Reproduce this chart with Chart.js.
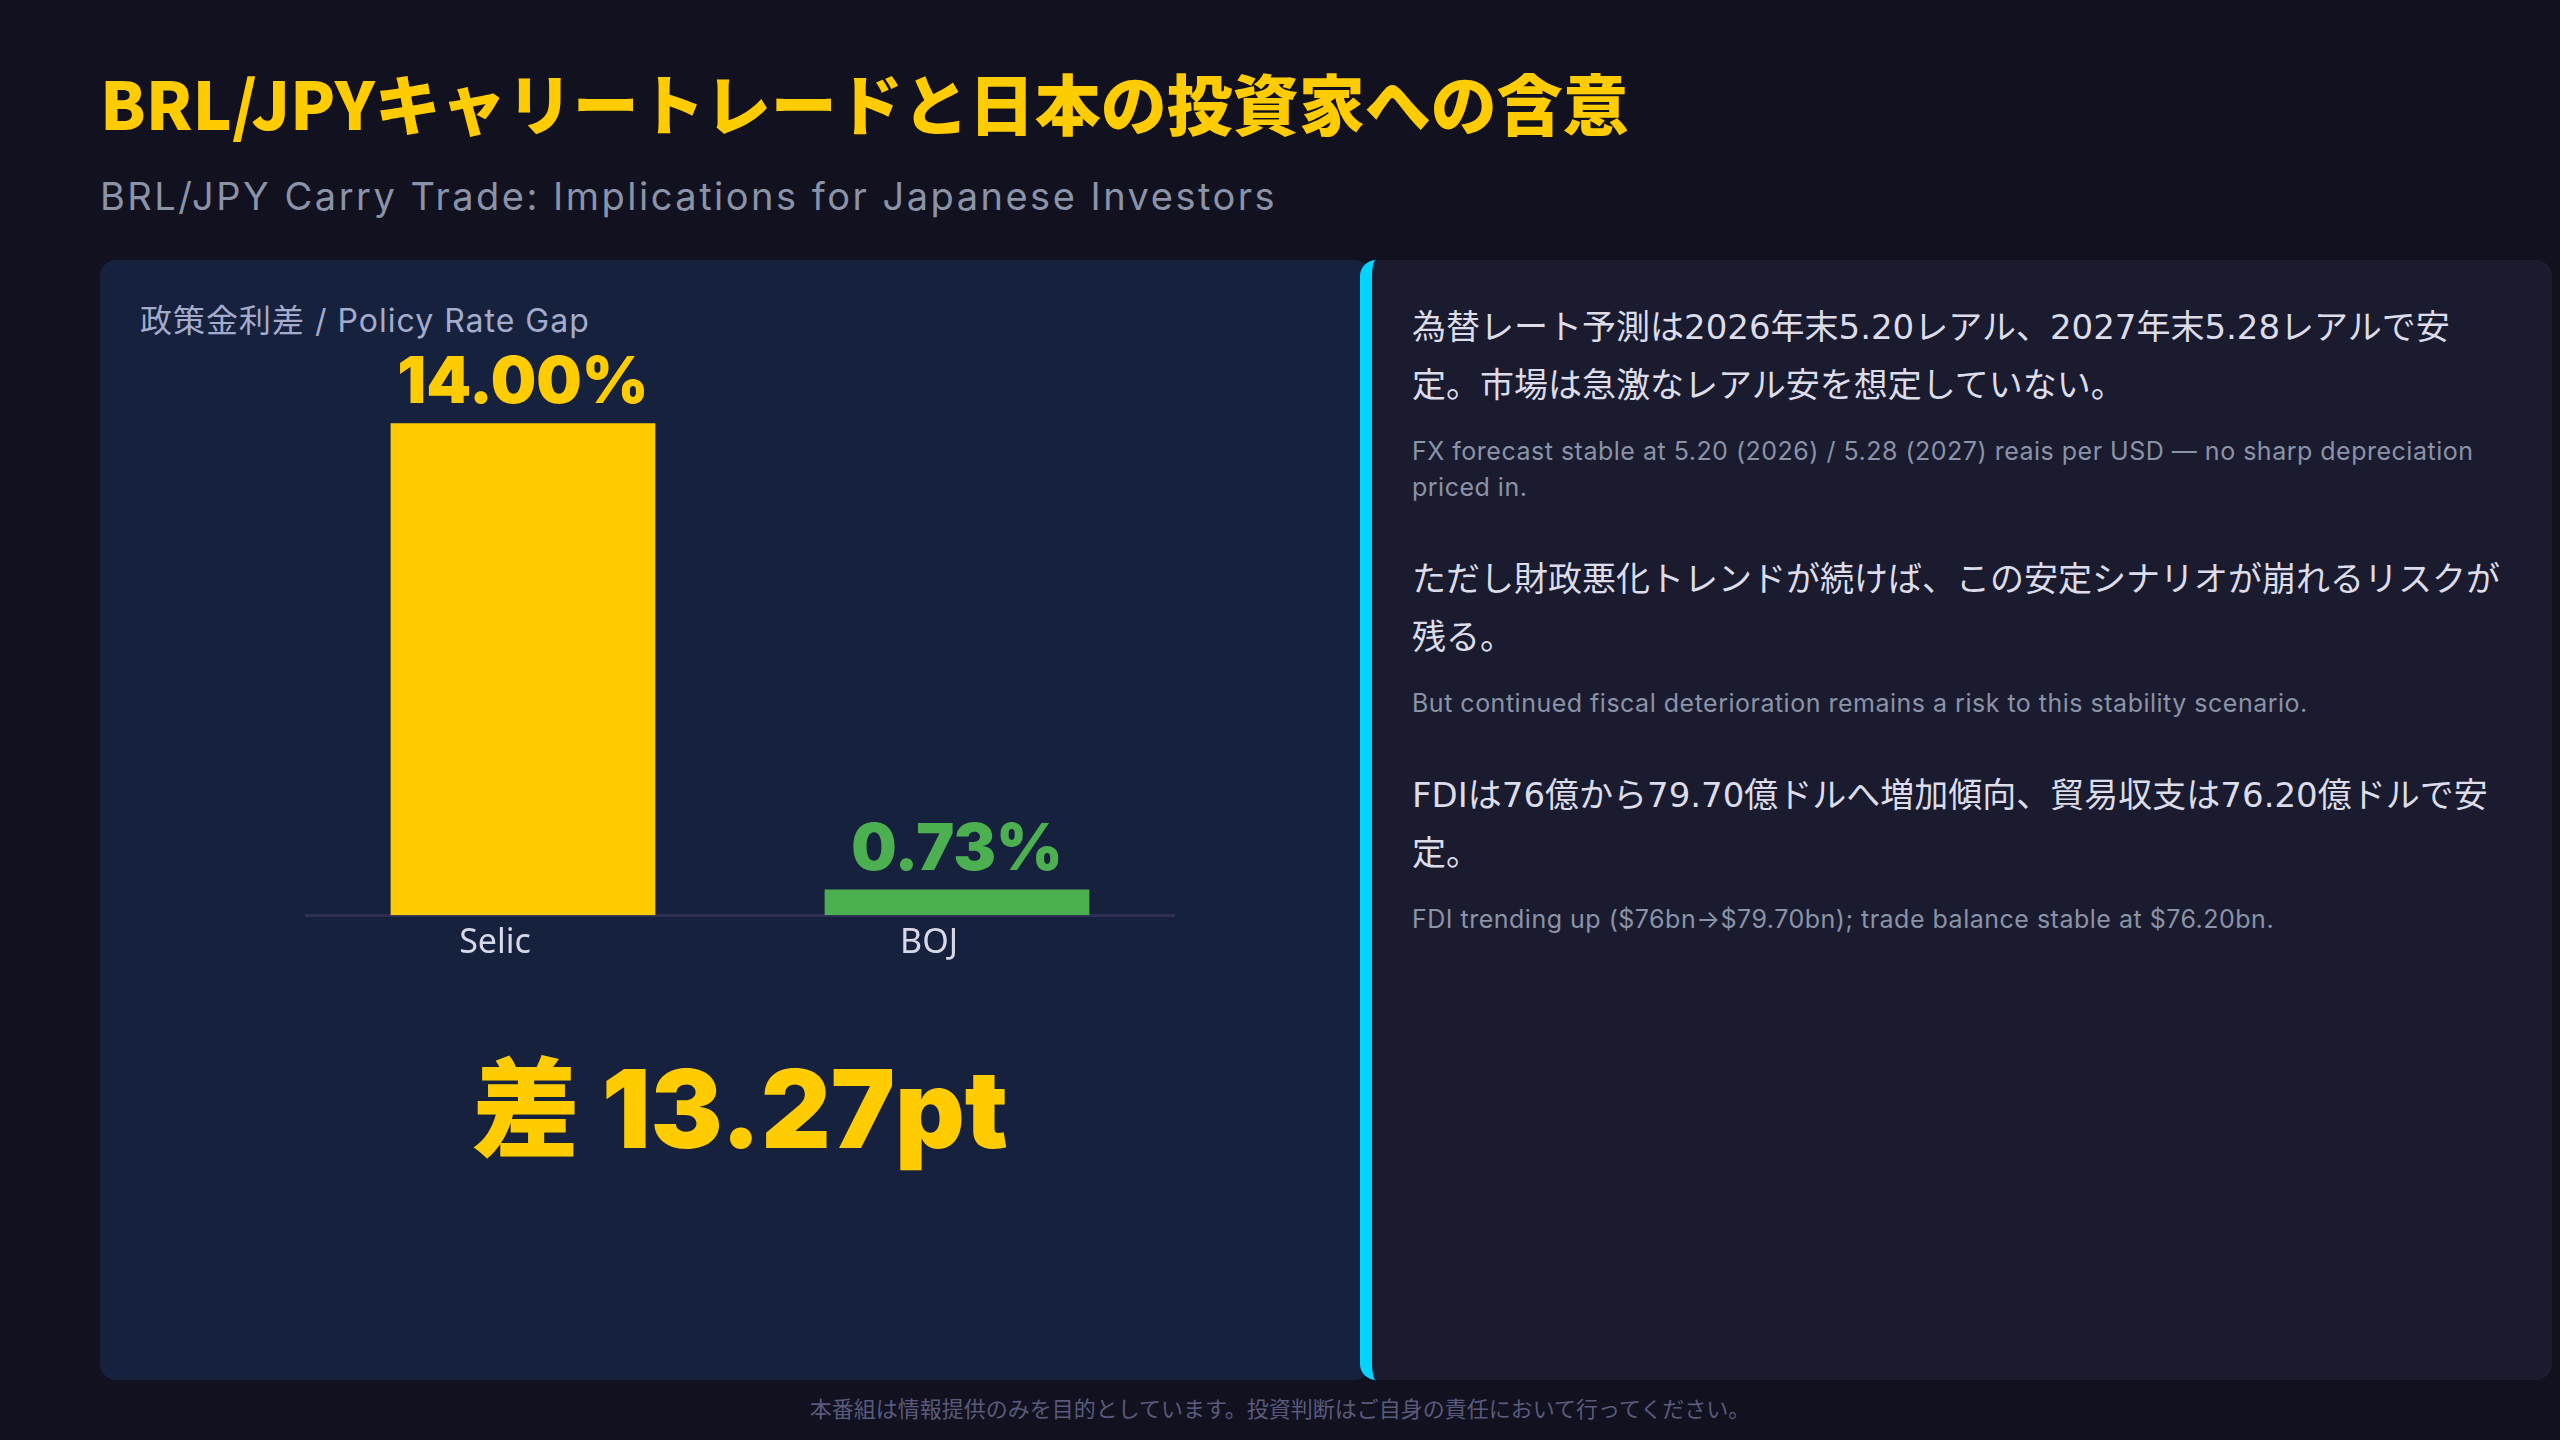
<!DOCTYPE html>
<html lang="ja">
<head>
  <meta charset="UTF-8" />
  <title>BRL/JPY Carry Trade</title>
  <script src="https://cdn.jsdelivr.net/npm/chart.js"></script>
  <style>
    html, body {
      margin: 0;
      padding: 0;
      width: 2560px;
      height: 1440px;
      background: #11111f;
      overflow: hidden;
      font-family: "Noto Sans CJK JP", "Noto Sans", sans-serif;
    }
    .title {
      position: absolute;
      left: 100px;
      top: 68px;
      font-size: 66px;
      line-height: 1;
      font-weight: 900;
      color: #ffcc00;
      white-space: nowrap;
    }
    .subtitle {
      position: absolute;
      left: 100px;
      top: 177px;
      font-family: Inter, "Noto Sans", sans-serif;
      font-size: 38px;
      letter-spacing: 2.5px;
      line-height: 1;
      color: #8a93a8;
      white-space: nowrap;
    }
    .left-panel {
      position: absolute;
      left: 100px;
      top: 260px;
      width: 1270px;
      height: 1120px;
      background: #16213e;
      border-radius: 16px;
    }
    .panel-label {
      position: absolute;
      left: 140px;
      top: 305px;
      font-family: Inter, "Noto Sans CJK JP", sans-serif;
      font-size: 32px;
      letter-spacing: 1px;
      line-height: 1;
      color: #a4abcb;
      white-space: nowrap;
    }
    .chart-box {
      position: absolute;
      left: 300px;
      top: 330px;
      width: 880px;
      height: 642px;
    }
    .gap {
      position: absolute;
      left: 340px;
      width: 800px;
      top: 1044px;
      text-align: center;
      font-family: Inter, "Noto Sans CJK JP", sans-serif;
      font-weight: 900;
      font-size: 108px;
      line-height: 1.2;
      color: #ffcc00;
    }
    .right-panel {
      position: absolute;
      left: 1360px;
      top: 260px;
      width: 1140px;
      height: 1082px;
      padding: 38px 0 0 40px;
      background: #1a1b2e;
      border-left: 12px solid #00d4ff;
      border-radius: 16px;
      box-sizing: content-box;
    }
    .right-panel .inner {
      width: 1095px;
    }
    .jp {
      margin: 0 0 19px 0;
      font-family: "DejaVu Sans", "Noto Sans CJK JP", sans-serif;
      font-size: 34px;
      line-height: 58px;
      color: #dcdcea;
    }
    .en {
      margin: 0 0 45px 0;
      font-family: Inter, "Noto Sans", sans-serif;
      font-size: 25px;
      letter-spacing: 0.5px;
      line-height: 36px;
      color: #8a93a8;
    }
    .footer {
      position: absolute;
      left: 0;
      width: 2560px;
      top: 1394px;
      text-align: center;
      font-size: 22px;
      line-height: 1.2;
      color: #5a5a7c;
    }
  </style>
</head>
<body>
  <div class="title">BRL/JPYキャリートレードと日本の投資家への含意</div>
  <div class="subtitle">BRL/JPY Carry Trade: Implications for Japanese Investors</div>

  <div class="left-panel"></div>
  <div class="panel-label">政策金利差 / Policy Rate Gap</div>
  <div class="chart-box"><canvas id="rateChart"></canvas></div>
  <div class="gap" id="gapText"></div>

  <div class="right-panel">
    <div class="inner">
      <p class="jp">為替レート予測は2026年末5.20レアル、2027年末5.28レアルで安定。市場は急激なレアル安を想定していない。</p>
      <p class="en">FX forecast stable at 5.20 (2026) / 5.28 (2027) reais per USD — no sharp depreciation priced in.</p>
      <p class="jp">ただし財政悪化トレンドが続けば、この安定シナリオが崩れるリスクが残る。</p>
      <p class="en">But continued fiscal deterioration remains a risk to this stability scenario.</p>
      <p class="jp">FDIは76億から79.70億ドルへ増加傾向、貿易収支は76.20億ドルで安定。</p>
      <p class="en">FDI trending up ($76bn→$79.70bn); trade balance stable at $76.20bn.</p>
    </div>
  </div>

  <div class="footer">本番組は情報提供のみを目的としています。投資判断はご自身の責任において行ってください。</div>

  <script>
    const categories = ['Selic', 'BOJ'];
    const policyRates = [14.00, 0.73];
    const barColors = ['#ffcc00', '#4caf50'];

    document.getElementById('gapText').textContent =
      '差 ' + (policyRates[0] - policyRates[1]).toFixed(2) + 'pt';

    // value labels above each bar, same colour as the bar
    const valueLabels = {
      id: 'valueLabels',
      afterDatasetsDraw(chart) {
        const ctx = chart.ctx;
        const meta = chart.getDatasetMeta(0);
        ctx.save();
        ctx.font = '900 64px Inter, sans-serif';
        ctx.textAlign = 'center';
        ctx.textBaseline = 'alphabetic';
        meta.data.forEach((bar, i) => {
          ctx.fillStyle = barColors[i];
          ctx.fillText(policyRates[i].toFixed(2) + '%', bar.x, bar.y - 20);
        });
        ctx.restore();
      }
    };

    new Chart(document.getElementById('rateChart'), {
      type: 'bar',
      data: {
        labels: categories,
        datasets: [{
          data: policyRates,
          backgroundColor: barColors,
          borderWidth: 0,
          barPercentage: 0.61,
          categoryPercentage: 1
        }]
      },
      options: {
        responsive: true,
        maintainAspectRatio: false,
        animation: false,
        layout: { padding: { left: 6, right: 6, top: 23, bottom: 0 } },
        plugins: { legend: { display: false }, tooltip: { enabled: false } },
        scales: {
          y: { display: false, min: 0, max: 16 },
          x: {
            grid: { display: false, drawTicks: false },
            border: { display: true, color: '#2e2f52', width: 3 },
            ticks: {
              color: '#d8d8e8',
              padding: 8,
              labelOffset: -28,
              font: { family: '"Noto Sans", sans-serif', size: 34 }
            }
          }
        }
      },
      plugins: [valueLabels]
    });
  </script>
</body>
</html>
